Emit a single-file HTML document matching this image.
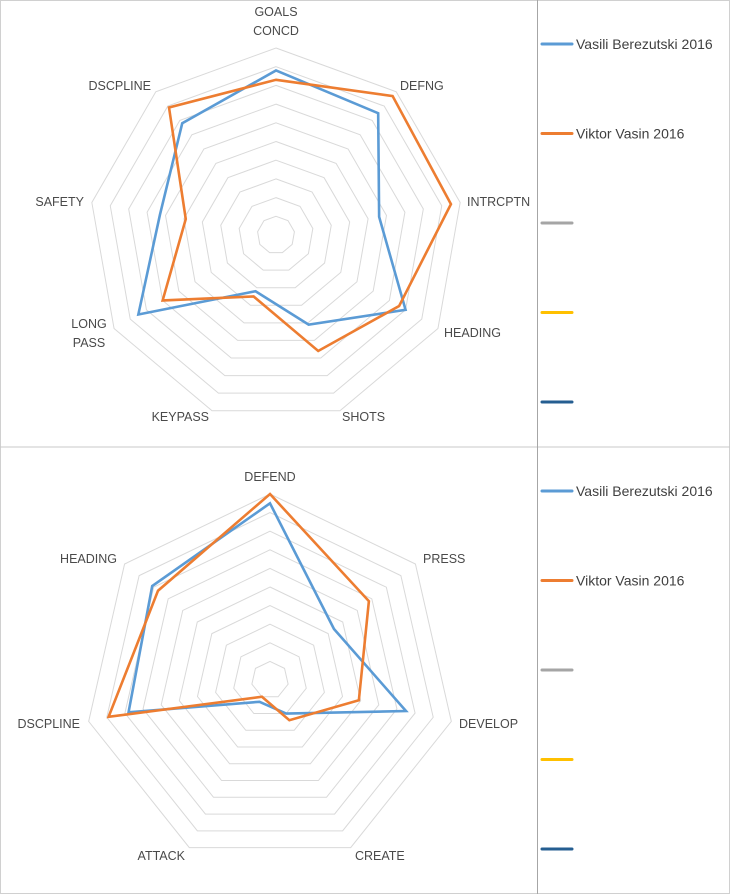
<!DOCTYPE html>
<html><head><meta charset="utf-8"><style>
html,body{margin:0;padding:0;background:#fff;}
svg{display:block;}
text{font-family:"Liberation Sans",sans-serif;font-size:12.5px;fill:#4a4a4a;}
.leg{font-size:14px;fill:#404040;}
</style></head><body>
<svg id="svg" width="730" height="894">
<rect x="0.5" y="0.5" width="729" height="893" fill="#fff" stroke="#d0d0d0"/>
<line x1="0" y1="447" x2="730" y2="447" stroke="#c8c8c8"/>
<line x1="537.5" y1="0" x2="537.5" y2="894" stroke="#a6a6a6"/>
</svg>
<script>
const topCategories=["GOALS CONCD","DEFNG","INTRCPTN","HEADING","SHOTS","KEYPASS","LONG PASS","SAFETY","DSCPLINE"];
const topBlue=[8.8,8.5,5.6,8.0,5.1,3.2,8.5,6.3,7.8];
const topOrange=[8.3,9.7,9.5,7.6,6.6,3.5,7.0,4.9,8.9];
const botCategories=["DEFEND","PRESS","DEVELOP","CREATE","ATTACK","DSCPLINE","HEADING"];
const botBlue=[9.5,4.4,7.5,2.0,1.3,7.8,8.1];
const botOrange=[10,6.8,4.9,2.4,1.0,8.9,7.7];
const seriesNames=["Vasili Berezutski 2016","Viktor Vasin 2016","","",""];
const maxVal=10;
const NS="http://www.w3.org/2000/svg";
const svg=document.getElementById('svg');
const colors=["#5B9BD5","#ED7D31","#A5A5A5","#FFC000","#255E91"];
function mk(tag,attrs){const e=document.createElementNS(NS,tag);for(const k in attrs)e.setAttribute(k,attrs[k]);svg.appendChild(e);return e;}
function pt(cx,cy,R,n,i,v){const a=2*Math.PI*i/n;const r=R*v/maxVal;return [cx+r*Math.sin(a),cy-r*Math.cos(a)];}
function radar(cx,cy,R,cats,series,labelPos,prefix){
  const n=cats.length;
  for(let k=1;k<=10;k++){
    const p=[];for(let i=0;i<n;i++)p.push(pt(cx,cy,R,n,i,k).join(','));
    const g=mk('polygon',{points:p.join(' '),fill:'none',stroke:'#d9d9d9','stroke-width':1});
    
    
  }
  series.forEach((vals,s)=>{
    const p=vals.map((v,i)=>pt(cx,cy,R,n,i,v).join(','));
    const pl=mk('polygon',{points:p.join(' '),fill:'none',stroke:colors[s],'stroke-width':2.6,'stroke-linejoin':'miter'});
    
    
  });
  cats.forEach((c,i)=>{
    const lp=labelPos[i];
    const t=mk('text',{x:lp[0],y:lp[1],'text-anchor':lp[2],'dominant-baseline':'central'});
    
    
    const parts=c==="GOALS CONCD"?["GOALS","CONCD"]:(c==="LONG PASS"?["LONG","PASS"]:[c]);
    if(parts.length===1)t.textContent=c;
    else parts.forEach((w,j)=>{const ts=document.createElementNS(NS,'tspan');ts.setAttribute('x',lp[0]);ts.setAttribute('dy',j===0?0:19);ts.textContent=w;t.appendChild(ts);});
  });
}
radar(276,235,187,topCategories,[topBlue,topOrange],
 [[276,12,'middle'],[400,86,'start'],[467,202,'start'],[444,333,'start'],[342,417,'start'],[209,417,'end'],[89,324,'middle'],[84,202,'end'],[151,86,'end']],'top');
radar(270,680,186,botCategories,[botBlue,botOrange],
 [[270,477,'middle'],[423,559,'start'],[459,724,'start'],[355,856,'start'],[185,856,'end'],[80,724,'end'],[117,559,'end']],'bottom');
function legend(y0,prefix){
  for(let s=0;s<5;s++){
    const y=y0+s*89.5;
    const l=mk('line',{x1:542,y1:y,x2:572,y2:y,stroke:colors[s],'stroke-width':3,'stroke-linecap':'round'});
    
    
    if(seriesNames[s]){
      const t=mk('text',{x:576,y:y,'dominant-baseline':'central','class':'leg'});
      t.textContent=seriesNames[s];
      
      
    }
  }
}
legend(44,'top');
legend(491,'bottom');
</script>
</body></html>
